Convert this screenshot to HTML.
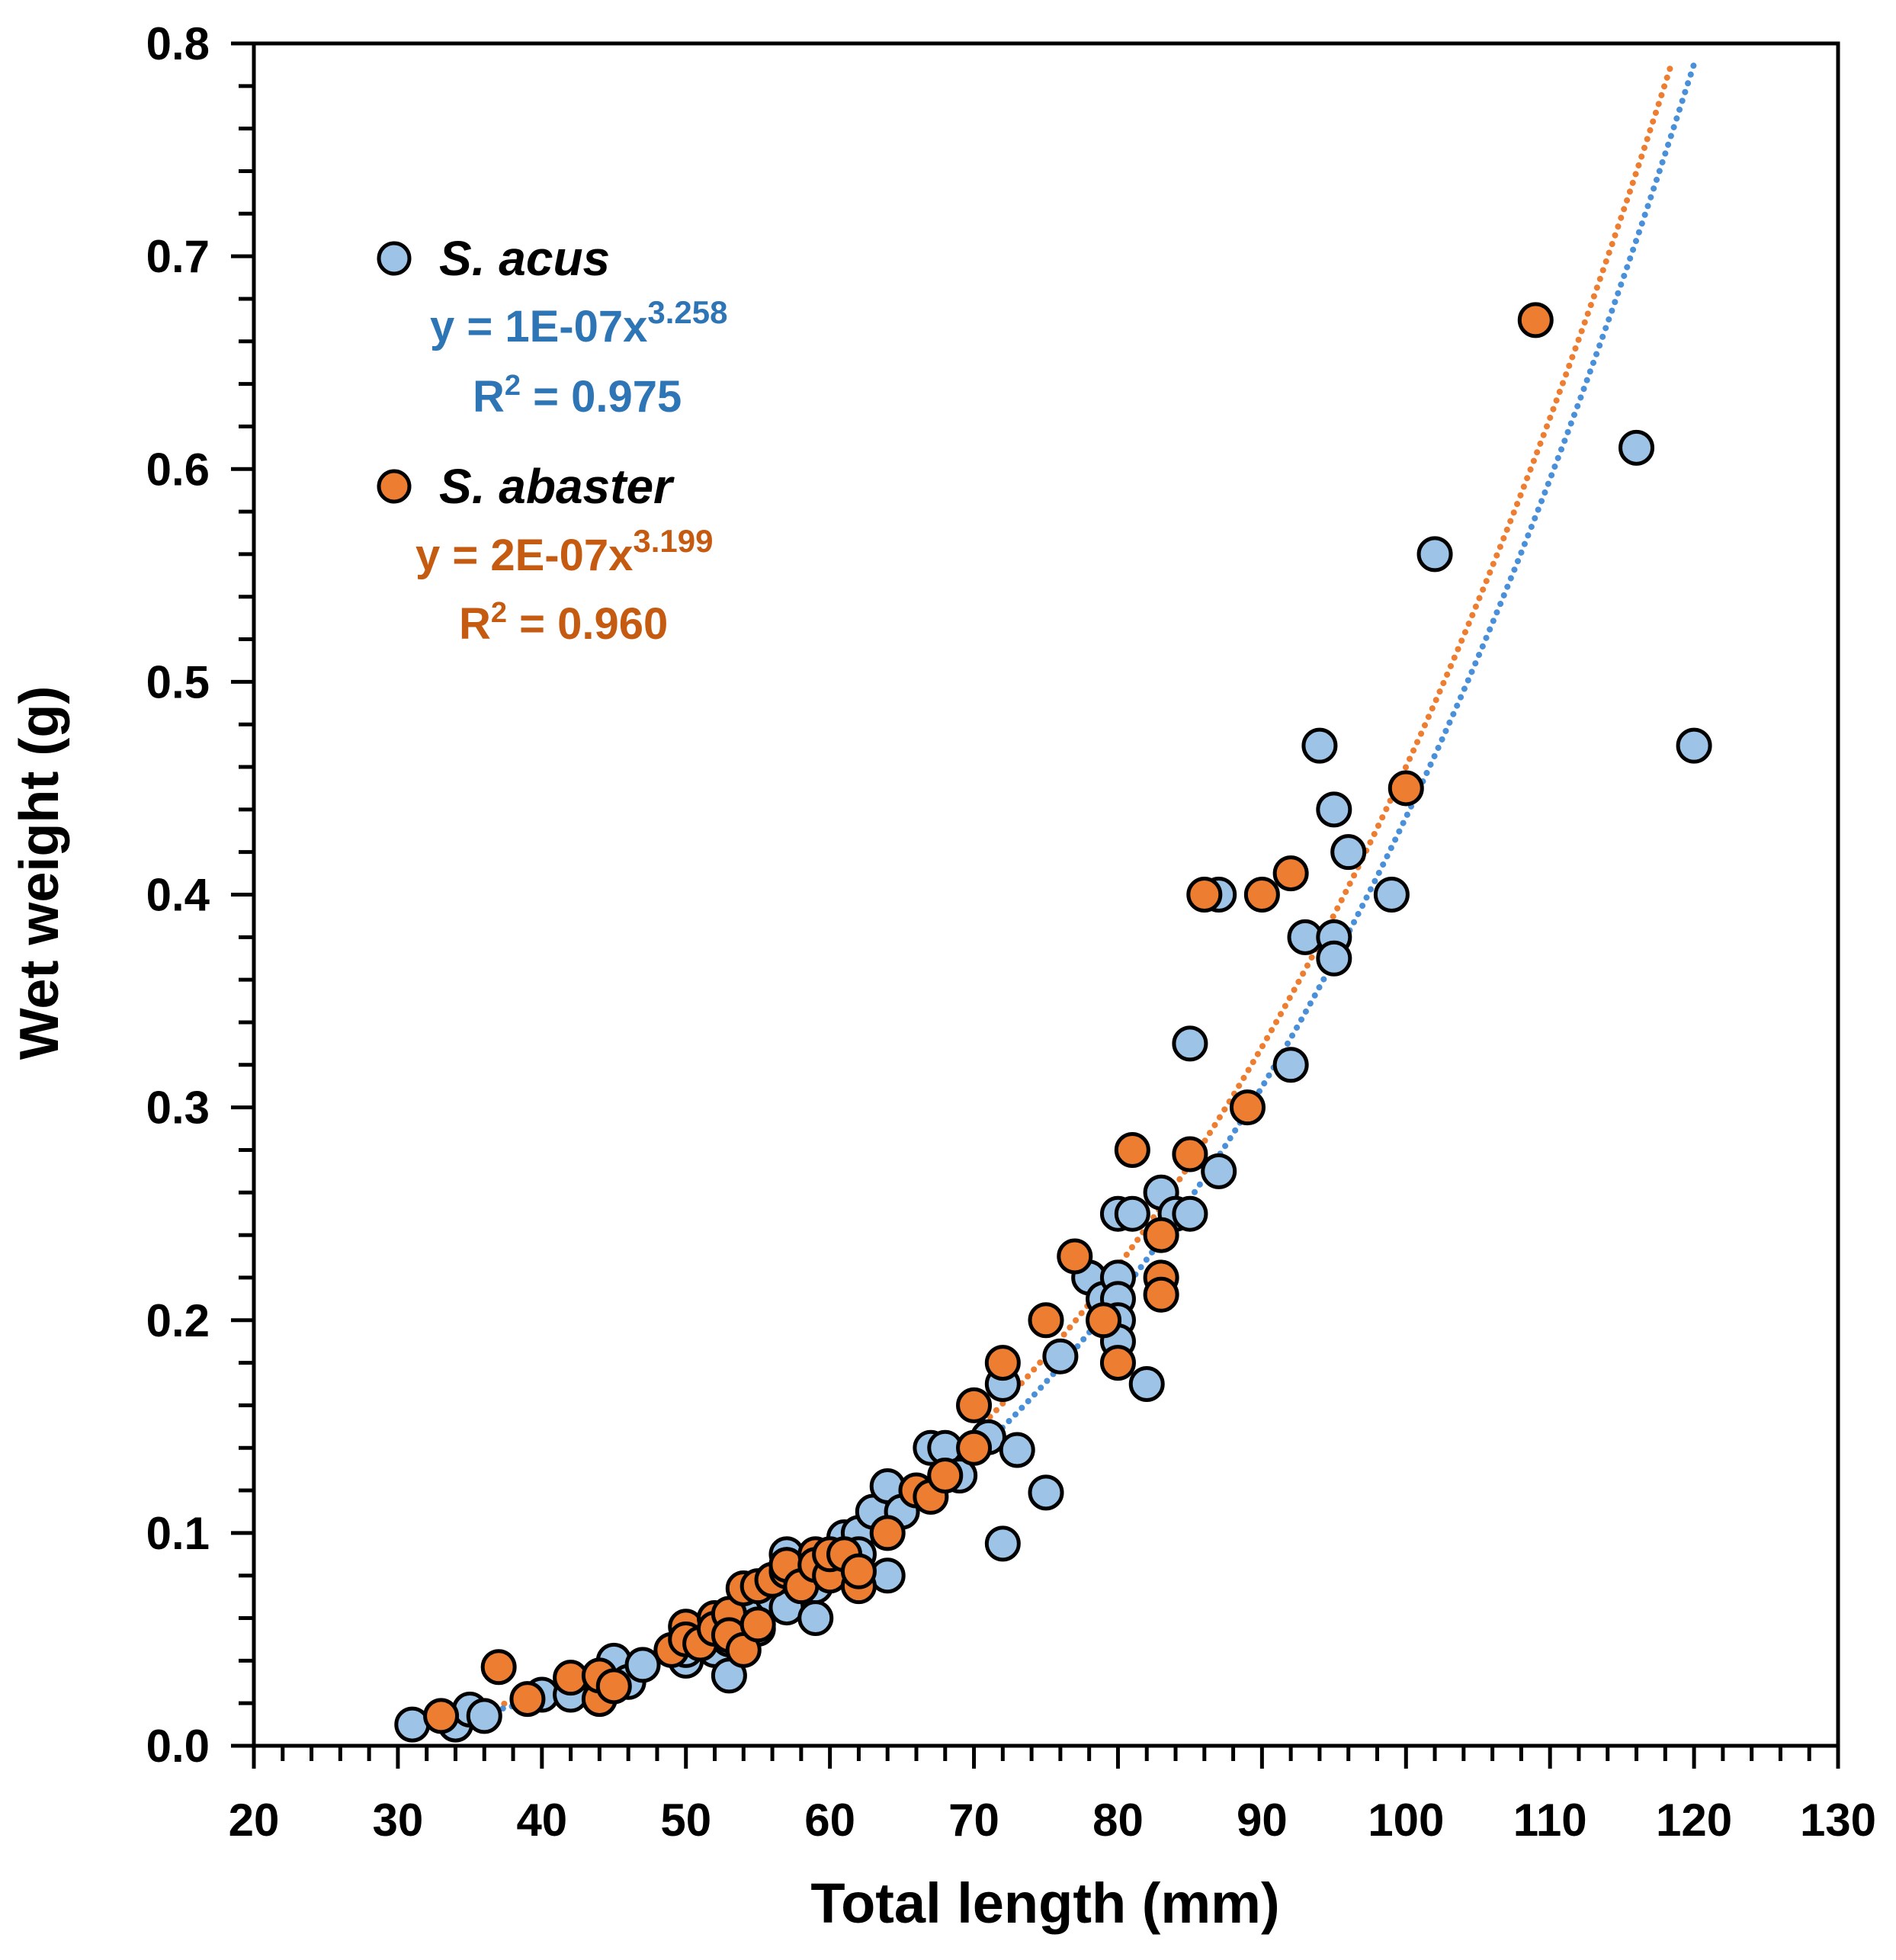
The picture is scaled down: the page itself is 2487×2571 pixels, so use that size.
<!DOCTYPE html>
<html><head><meta charset="utf-8">
<style>
html,body{margin:0;padding:0;background:#fff;}
svg{display:block;font-family:"Liberation Sans",sans-serif;}
</style></head>
<body>
<svg id="chart" width="2487" height="2571" viewBox="0 0 2487 2571" xmlns="http://www.w3.org/2000/svg">
<g id="trend"></g>
<g id="pts"></g>
<g id="axes"></g>
<text transform="translate(76,1145) rotate(-90)" text-anchor="middle" font-size="72" font-weight="bold">Wet weight (g)</text>
<text x="1371" y="2522" text-anchor="middle" font-size="74" font-weight="bold">Total length (mm)</text>
<g>
<circle cx="517" cy="339" r="20" fill="#9DC3E6" stroke="#000" stroke-width="5"/>
<text x="576" y="361" font-size="64" font-weight="bold" font-style="italic">S. acus</text>
<text x="564" y="448" font-size="58" font-weight="bold" fill="#2E75B6">y = 1E-07x<tspan font-size="42" dy="-24">3.258</tspan></text>
<text x="620" y="540" font-size="58" font-weight="bold" fill="#2E75B6">R<tspan font-size="38" dy="-22">2</tspan><tspan dy="22"> = 0.975</tspan></text>
<circle cx="517" cy="638" r="20" fill="#ED7D31" stroke="#000" stroke-width="5"/>
<text x="576" y="660" font-size="64" font-weight="bold" font-style="italic">S. abaster</text>
<text x="545" y="748" font-size="58" font-weight="bold" fill="#C55A11">y = 2E-07x<tspan font-size="42" dy="-24">3.199</tspan></text>
<text x="602" y="838" font-size="58" font-weight="bold" fill="#C55A11">R<tspan font-size="38" dy="-22">2</tspan><tspan dy="22"> = 0.960</tspan></text>
</g>
</svg>
<script>
const xTicks=[20,30,40,50,60,70,80,90,100,110,120,130];
const yTicks=[0.0,0.1,0.2,0.3,0.4,0.5,0.6,0.7,0.8];
const yTickLabels=["0.0","0.1","0.2","0.3","0.4","0.5","0.6","0.7","0.8"];
const acusX=[31,34,35,36,40,42,44,45,45,46,47,50,50,51,52,52,53,53,54,55,55,56,57,57,57,58,58,59,59,60,61,62,62,63,64,64,65,67,68,69,71,72,72,73,75,76,78,79,80,80,80,80,80,81,82,83,84,85,85,87,87,92,93,94,95,95,95,96,99,102,116,120];
const acusY=[0.01,0.01,0.017,0.014,0.024,0.024,0.03,0.04,0.028,0.03,0.038,0.04,0.045,0.05,0.055,0.045,0.033,0.05,0.06,0.055,0.065,0.07,0.09,0.085,0.065,0.075,0.08,0.06,0.075,0.085,0.098,0.1,0.09,0.11,0.122,0.08,0.11,0.14,0.14,0.127,0.145,0.17,0.095,0.139,0.119,0.183,0.22,0.21,0.25,0.22,0.21,0.2,0.19,0.25,0.17,0.26,0.25,0.25,0.33,0.27,0.4,0.32,0.38,0.47,0.44,0.38,0.37,0.42,0.4,0.56,0.61,0.47];
const abasterX=[33,37,39,42,44,44,45,49,50,50,51,52,52,53,53,54,54,55,55,56,57,57,58,59,59,60,60,61,62,62,64,66,67,68,70,70,72,75,77,79,80,81,83,83,83,85,86,89,90,92,100,109];
const abasterY=[0.014,0.037,0.022,0.032,0.022,0.033,0.028,0.045,0.056,0.05,0.048,0.06,0.055,0.062,0.052,0.074,0.045,0.057,0.075,0.078,0.082,0.085,0.075,0.09,0.085,0.08,0.09,0.09,0.075,0.082,0.1,0.12,0.117,0.127,0.16,0.14,0.18,0.2,0.23,0.2,0.18,0.28,0.24,0.22,0.212,0.278,0.4,0.3,0.4,0.41,0.45,0.67];
const acusFit=[1.33e-7,3.258,31,120];
const abasterFit=[1.84e-7,3.199,33,118.5];

const NS="http://www.w3.org/2000/svg";
const L=333,R=2411,T=57,B=2290;
function sx(v){return L+(v-20)/(130-20)*(R-L);}
function sy(v){return B-(v-0)/(0.8-0)*(B-T);}
function mk(tag,attrs,parent){const e=document.createElementNS(NS,tag);for(const k in attrs)e.setAttribute(k,attrs[k]);parent.appendChild(e);return e;}
const axes=document.getElementById('axes');
const fr=mk('rect',{x:L,y:T,width:R-L,height:B-T,fill:'none',stroke:'#000','stroke-width':5},axes);


for(let v=20;v<=130;v+=2){
  const major=(v%10===0);
  const t=mk('line',{x1:sx(v),x2:sx(v),y1:B,y2:B+(major?30:20),stroke:'#000','stroke-width':5},axes);
  
  
}
xTicks.forEach(v=>{
  const t=mk('text',{x:sx(v),y:B+118,'text-anchor':'middle','font-size':60,'font-weight':'bold'},axes);
  t.textContent=v;
  
  
});
for(let i=0;i<=40;i++){
  const v=i*0.02;const major=(i%5===0);
  const t=mk('line',{x1:L-(major?30:20),x2:L,y1:sy(v),y2:sy(v),stroke:'#000','stroke-width':5},axes);
  
  
}
yTicks.forEach((v,i)=>{
  const t=mk('text',{x:L-58,y:sy(v)+21,'text-anchor':'end','font-size':60,'font-weight':'bold'},axes);
  t.textContent=yTickLabels[i];
  
  
});
const trend=document.getElementById('trend');
function fit(f,color,name){
  let d='';
  for(let x=f[2];x<=f[3]+1e-9;x+=0.25){const y=f[0]*Math.pow(x,f[1]);d+=(d?'L':'M')+sx(x).toFixed(1)+','+sy(y).toFixed(1);}
  const p=mk('path',{d:d,fill:'none',stroke:color,'stroke-width':8,'stroke-linecap':'round','stroke-dasharray':'0.1 12'},trend);
  
  
}
fit(abasterFit,'#ED7D31','trendline-s-abaster');
fit(acusFit,'#4A90D9','trendline-s-acus');
const pts=document.getElementById('pts');
function series(xs,ys,fill,name){
  xs.forEach((x,i)=>{
    const c=mk('circle',{cx:sx(x),cy:sy(ys[i]),r:21,fill:fill,stroke:'#000','stroke-width':5},pts);
    
    
  });
}
series(acusX,acusY,'#9DC3E6','point-s-acus');
series(abasterX,abasterY,'#ED7D31','point-s-abaster');
</script>
</body></html>
